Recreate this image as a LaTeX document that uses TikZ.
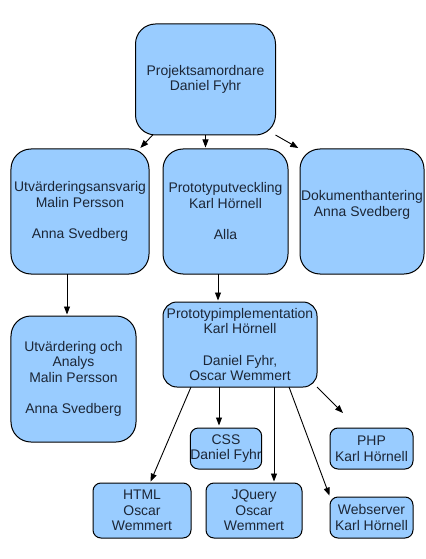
\documentclass[tikz,border=0pt]{standalone}
\usepackage{fontspec}
\setmainfont{Liberation Sans}
\usetikzlibrary{arrows.meta,calc}
\definecolor{boxfill}{HTML}{99CCFF}
\definecolor{boxtext}{RGB}{28,38,54}
\begin{document}
\begin{tikzpicture}[x=1bp,y=-1bp,
  box/.style={draw=black,line width=1bp,fill=boxfill,text=boxtext,align=center,
    inner sep=0pt,outer sep=0pt,font=\fontsize{14}{15.7}\selectfont},
  bigbox/.style={box,rounded corners=20bp},
  midbox/.style={box,rounded corners=14bp},
  smallbox/.style={box,rounded corners=8bp},
  conn/.style={line width=0.9bp,-{Triangle[length=8bp,width=6bp]},shorten >=1.5bp}]
\useasboundingbox (0,0) rectangle (425,559);
\fill[white] (0,0) rectangle (425,559);
\node[bigbox,minimum width=140bp,minimum height=111bp] (top) at (205.5,79.5) {Projektsamordnare\\Daniel Fyhr};
\node[bigbox,minimum width=138bp,minimum height=125bp] (utv) at (80,211.5) {Utvärderingsansvarig\\Malin Persson\\[15.7bp]Anna Svedberg};
\node[bigbox,minimum width=125bp,minimum height=125bp] (proto) at (225.5,211.5) {Prototyputveckling\\Karl Hörnell\\[15.7bp]Alla};
\node[bigbox,minimum width=124bp,minimum height=125bp] (dok) at (362,211.5) {Dokumenthantering\\Anna Svedberg\\\mbox{}};
\node[bigbox,minimum width=125bp,minimum height=126bp] (analys) at (73.5,379) {Utvärdering och\\Analys\\Malin Persson\\[15.7bp]Anna Svedberg};
\node[midbox,minimum width=154bp,minimum height=85bp] (impl) at (240,344.5) {Prototypimplementation\\Karl Hörnell\\[15.7bp]Daniel Fyhr,\\Oscar Wemmert};
\node[smallbox,minimum width=68bp,minimum height=41bp] (css) at (226,448.5) {CSS\\Daniel Fyhr};
\node[smallbox,minimum width=83bp,minimum height=41bp] (php) at (371.5,448.5) {PHP\\Karl Hörnell};
\node[smallbox,minimum width=98bp,minimum height=55bp] (html) at (142,510.5) {HTML\\Oscar\\Wemmert};
\node[smallbox,minimum width=96bp,minimum height=55bp] (jq) at (254,510.5) {JQuery\\Oscar\\Wemmert};
\node[smallbox,minimum width=83bp,minimum height=41bp] (web) at (371.5,517.5) {Webserver\\Karl Hörnell};
\coordinate (phpend) at (343,413);
% connectors
\draw[conn] (top) -- (utv);
\draw[conn] (top.south) -- (top.south |- proto.north);
\draw[conn,shorten >=2bp] (top.south east) -- (dok.north west);
\draw[conn] ([xshift=-13bp]utv.south) -- ([xshift=-13bp]utv.south |- analys.north);
\draw[conn] ([xshift=-7.5bp]proto.south) -- ([xshift=-7.5bp]proto.south |- impl.north);
\draw[conn] ([xshift=-49bp]impl.south) -- ([xshift=8bp]html.north);
\draw[conn,shorten >=2.5bp] ([xshift=-21bp]impl.south) -- ([xshift=-21bp]impl.south |- css.north);
\draw[conn] ([xshift=34bp]impl.south) -- ([xshift=34bp]impl.south |- jq.north);
\draw[conn] ([xshift=49bp]impl.south) -- (web.north west);
\draw[conn,shorten >=0pt] (impl.south east) -- (phpend);
\end{tikzpicture}
\end{document}
